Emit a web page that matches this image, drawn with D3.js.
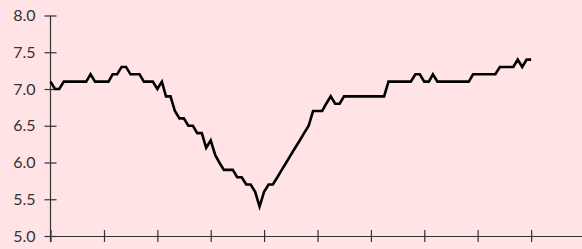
<!DOCTYPE html>
<meta charset="utf-8">

<!-- Load d3.js -->
<script src="https://d3js.org/d3.v7.min.js"></script>

<style>
  body { margin: 0; background: #ffe3e5; }
</style>

<!-- Create a div where the graph will take place -->
<div id="my_dataviz"></div>

<script>
  // set the dimensions of the graph
  var width = 582,
    height = 249;

  // monthly series, starting January of the first year
  var startYear = 2000;
  var values = [
    7.1, 7.0, 7.0, 7.1, 7.1, 7.1, 7.1, 7.1, 7.1, 7.2, 7.1, 7.1,
    7.1, 7.1, 7.2, 7.2, 7.3, 7.3, 7.2, 7.2, 7.2, 7.1, 7.1, 7.1,
    7.0, 7.1, 6.9, 6.9, 6.7, 6.6, 6.6, 6.5, 6.5, 6.4, 6.4, 6.2,
    6.3, 6.1, 6.0, 5.9, 5.9, 5.9, 5.8, 5.8, 5.7, 5.7, 5.6, 5.4,
    5.6, 5.7, 5.7, 5.8, 5.9, 6.0, 6.1, 6.2, 6.3, 6.4, 6.5, 6.7,
    6.7, 6.7, 6.8, 6.9, 6.8, 6.8, 6.9, 6.9, 6.9, 6.9, 6.9, 6.9,
    6.9, 6.9, 6.9, 6.9, 7.1, 7.1, 7.1, 7.1, 7.1, 7.1, 7.2, 7.2,
    7.1, 7.1, 7.2, 7.1, 7.1, 7.1, 7.1, 7.1, 7.1, 7.1, 7.1, 7.2,
    7.2, 7.2, 7.2, 7.2, 7.2, 7.3, 7.3, 7.3, 7.3, 7.4, 7.3, 7.4,
    7.4
  ];
  var yTicks = [5.0, 5.5, 6.0, 6.5, 7.0, 7.5, 8.0];

  var data = values.map(function (v, i) {
    return { date: new Date(startYear, i, 1), value: v };
  });

  // append the svg object to the div called 'my_dataviz'
  var svg = d3.select("#my_dataviz")
    .append("svg")
    .attr("width", width)
    .attr("height", height)
    .style("display", "block");

  svg.append("rect")
    .attr("width", width)
    .attr("height", height)
    .attr("fill", "#ffe3e5");

  // x scale: one tick per year, the axis runs off the right edge
  var x = d3.scaleTime()
    .domain([new Date(startYear, 0, 1), new Date(startYear + 10, 0, 1)])
    .range([50.5, 584.5]);

  var y = d3.scaleLinear()
    .domain([5, 8])
    .range([236, 15.5]);

  // X axis, ticks cross the line, no labels
  var gx = svg.append("g")
    .attr("transform", "translate(0," + 236 + ")")
    .call(d3.axisBottom(x)
      .ticks(d3.timeYear.every(1))
      .tickSizeInner(6)
      .tickSizeOuter(0)
      .tickFormat(""));
  gx.selectAll(".tick line").attr("y1", -6);

  // Y axis
  var gy = svg.append("g")
    .attr("transform", "translate(" + 50.5 + ",0)")
    .call(d3.axisLeft(y)
      .tickValues(yTicks)
      .tickSizeInner(6)
      .tickSizeOuter(0)
      .tickPadding(9)
      .tickFormat(d3.format(".1f")));
  gy.selectAll(".tick line").attr("x1", 6);
  gy.select(".domain").attr("d", "M0," + y(8) + "V" + 242);

  svg.selectAll(".domain, .tick line")
    .attr("stroke", "#333")
    .attr("stroke-width", 1.2);
  svg.selectAll(".tick text")
    .attr("fill", "#333")
    .style("font-family", "Lato, sans-serif")
    .style("font-size", "16px");

  // Add the line
  svg.append("path")
    .datum(data)
    .attr("fill", "none")
    .attr("stroke", "black")
    .attr("stroke-width", 2.6)
    .attr("d", d3.line()
      .x(function (d) { return x(d.date); })
      .y(function (d) { return y(d.value); }));
</script>
